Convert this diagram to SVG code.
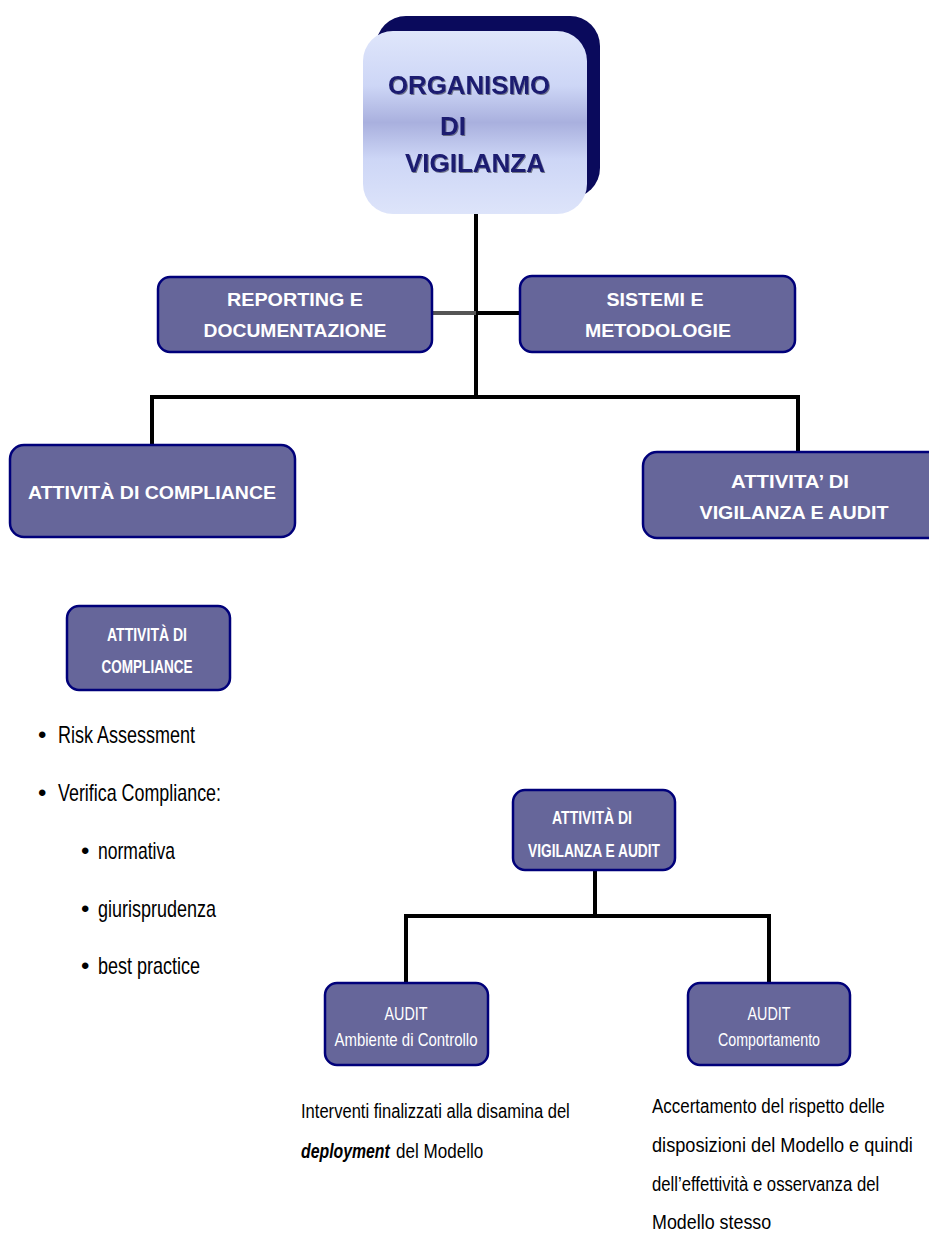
<svg xmlns="http://www.w3.org/2000/svg" width="929" height="1233" viewBox="0 0 929 1233">
<defs>
<linearGradient id="topGrad" x1="0" y1="0" x2="0" y2="1">
<stop offset="0" stop-color="#dfe6fb"/>
<stop offset="0.3" stop-color="#cdd6f6"/>
<stop offset="0.5" stop-color="#a9b0de"/>
<stop offset="0.7" stop-color="#cdd6f6"/>
<stop offset="1" stop-color="#dde4fa"/>
</linearGradient>
<filter id="ts" x="-10%" y="-10%" width="120%" height="130%">
<feDropShadow dx="1" dy="1" stdDeviation="0.6" flood-color="#000" flood-opacity="0.45"/>
</filter>
</defs>
<style>
.box{fill:#66669a;stroke:#00007a;stroke-width:2.5}
.bt{font-family:"Liberation Sans",Arial,sans-serif;font-weight:bold;fill:#ffffff;text-anchor:middle}
.bn{font-family:"Liberation Sans",Arial,sans-serif;fill:#ffffff;text-anchor:middle}
.tt{font-family:"Liberation Sans",Arial,sans-serif;font-weight:bold;fill:#1a1a70;font-size:26px}
.li{font-family:"Liberation Sans",Arial,sans-serif;fill:#000;font-size:24px}
.ds{font-family:"Liberation Sans",Arial,sans-serif;fill:#000;font-size:21px}
.ln{stroke:#000;stroke-width:4;fill:none}
</style>
<rect width="929" height="1233" fill="#ffffff"/>
<g id="connectors">
<path class="ln" d="M476 214 V397"/>
<path class="ln" d="M152 445 V397 H798 V452"/>
<path d="M432 313 H476" stroke="#555" stroke-width="4"/>
<path class="ln" d="M476 313 H520"/>
<path class="ln" d="M595 870 V916"/>
<path class="ln" d="M406 983 V916 H769 V983"/>
</g>
<g id="organismo">
<rect x="376" y="16" width="224" height="182" rx="30" fill="#0a0a5c"/>
<rect x="363" y="31" width="224" height="183" rx="30" fill="url(#topGrad)"/>
<g filter="url(#ts)">
<text class="tt" x="388" y="94" textLength="162" lengthAdjust="spacingAndGlyphs">ORGANISMO</text>
<text class="tt" x="440" y="135" textLength="26" lengthAdjust="spacingAndGlyphs">DI</text>
<text class="tt" x="405" y="172" textLength="140" lengthAdjust="spacingAndGlyphs">VIGILANZA</text>
</g>
</g>
<g id="reporting">
<rect class="box" x="158" y="277" width="274" height="75" rx="12"/>
<text class="bt" x="295" y="306" font-size="19" textLength="136" lengthAdjust="spacingAndGlyphs">REPORTING E</text>
<text class="bt" x="295" y="337" font-size="19" textLength="183" lengthAdjust="spacingAndGlyphs">DOCUMENTAZIONE</text>
</g>
<g id="sistemi">
<rect class="box" x="520" y="276" width="275" height="76" rx="12"/>
<text class="bt" x="655" y="306" font-size="19" textLength="97" lengthAdjust="spacingAndGlyphs">SISTEMI E</text>
<text class="bt" x="658" y="337" font-size="19" textLength="146" lengthAdjust="spacingAndGlyphs">METODOLOGIE</text>
</g>
<g id="compliance">
<rect class="box" x="10" y="445" width="285" height="92" rx="14"/>
<text class="bt" x="152" y="499" font-size="19" textLength="248" lengthAdjust="spacingAndGlyphs">ATTIVITÀ DI COMPLIANCE</text>
</g>
<g id="vigilanza">
<rect class="box" x="643" y="452" width="300" height="86" rx="14"/>
<text class="bt" x="790" y="488" font-size="19" textLength="118" lengthAdjust="spacingAndGlyphs">ATTIVITA’ DI</text>
<text class="bt" x="794" y="519" font-size="19" textLength="189" lengthAdjust="spacingAndGlyphs">VIGILANZA E AUDIT</text>
</g>
<g id="compliance-detail">
<rect class="box" x="67" y="606" width="163" height="84" rx="12"/>
<text class="bt" x="147" y="641" font-size="18" textLength="80" lengthAdjust="spacingAndGlyphs">ATTIVITÀ DI</text>
<text class="bt" x="147" y="673" font-size="18" textLength="91" lengthAdjust="spacingAndGlyphs">COMPLIANCE</text>
</g>
<g id="compliance-list">
<text class="li" x="38" y="743" font-size="20">•</text>
<text class="li" x="58" y="743" textLength="137" lengthAdjust="spacingAndGlyphs">Risk Assessment</text>
<text class="li" x="38" y="801" font-size="20">•</text>
<text class="li" x="58" y="801" textLength="163" lengthAdjust="spacingAndGlyphs">Verifica Compliance:</text>
<text class="li" x="81" y="859" font-size="18">•</text>
<text class="li" x="98" y="859" textLength="77" lengthAdjust="spacingAndGlyphs">normativa</text>
<text class="li" x="81" y="917" font-size="18">•</text>
<text class="li" x="98" y="917" textLength="118" lengthAdjust="spacingAndGlyphs">giurisprudenza</text>
<text class="li" x="81" y="974" font-size="18">•</text>
<text class="li" x="98" y="974" textLength="102" lengthAdjust="spacingAndGlyphs">best practice</text>
</g>
<g id="vigilanza-detail">
<rect class="box" x="513" y="790" width="162" height="80" rx="12"/>
<text class="bt" x="592" y="824" font-size="18" textLength="80" lengthAdjust="spacingAndGlyphs">ATTIVITÀ DI</text>
<text class="bt" x="594" y="857" font-size="18" textLength="132" lengthAdjust="spacingAndGlyphs">VIGILANZA E AUDIT</text>
</g>
<g id="audit-ambiente">
<rect class="box" x="325" y="983" width="163" height="82" rx="12"/>
<text class="bn" x="406" y="1020" font-size="19" textLength="43" lengthAdjust="spacingAndGlyphs">AUDIT</text>
<text class="bn" x="406" y="1046" font-size="19" textLength="143" lengthAdjust="spacingAndGlyphs">Ambiente di Controllo</text>
</g>
<g id="audit-comportamento">
<rect class="box" x="688" y="983" width="162" height="82" rx="12"/>
<text class="bn" x="769" y="1020" font-size="19" textLength="43" lengthAdjust="spacingAndGlyphs">AUDIT</text>
<text class="bn" x="769" y="1046" font-size="19" textLength="102" lengthAdjust="spacingAndGlyphs">Comportamento</text>
</g>
<g id="desc-ambiente">
<text class="ds" transform="translate(301 1118) scale(0.8 1)" x="0" y="0" textLength="336" lengthAdjust="spacingAndGlyphs">Interventi finalizzati alla disamina del</text>
<text class="ds" transform="translate(301 1158) scale(0.8 1)" x="0" y="0" font-weight="bold" font-style="italic" textLength="111" lengthAdjust="spacingAndGlyphs">deployment</text>
<text class="ds" transform="translate(396 1158) scale(0.8 1)" x="0" y="0" textLength="109" lengthAdjust="spacingAndGlyphs">del Modello</text>
</g>
<g id="desc-comportamento">
<text class="ds" transform="translate(652 1113) scale(0.8 1)" x="0" y="0" textLength="291" lengthAdjust="spacingAndGlyphs">Accertamento del rispetto delle</text>
<text class="ds" transform="translate(652 1152) scale(0.8 1)" x="0" y="0" textLength="326" lengthAdjust="spacingAndGlyphs">disposizioni del Modello e quindi</text>
<text class="ds" transform="translate(652 1191) scale(0.8 1)" x="0" y="0" textLength="284" lengthAdjust="spacingAndGlyphs">dell’effettività e osservanza del</text>
<text class="ds" transform="translate(652 1229) scale(0.8 1)" x="0" y="0" textLength="149" lengthAdjust="spacingAndGlyphs">Modello stesso</text>
</g>
</svg>
